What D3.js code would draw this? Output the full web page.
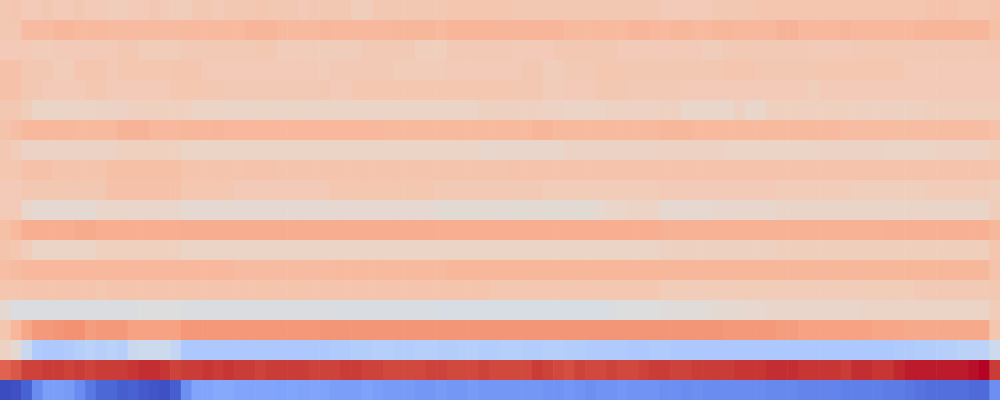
<!DOCTYPE html>
<html>
<head>
<meta charset="utf-8">
<script src="https://cdn.jsdelivr.net/npm/d3@7"></script>
<style>
html,body{margin:0;padding:0;background:#fff;}
svg{display:block;}
</style>
</head>
<body>
<svg id="chart" width="1000" height="400"></svg>
<script>
// Values (0-100), 20 rows x 94 columns
const row00 = [61,62,60,60,61,60,60,61,60,60, 59,59,60,60,61,60,59,59,61,61, 60,61,61,61,62,61,61,61,60,61, 61,61,61,59,59,61,61,61,61,61, 61,61,62,62,62,62,62,62,61,61, 61,61,61,61,61,61,61,61,61,61, 61,61,60,60,60,60,60,61,61,61, 61,62,62,62,62,62,62,62,62,62, 62,62,62,62,62,62,62,63,63,63, 62,62,62,63];
const row01 = [61,61,65.5,65.5,65.5,67,67,66,66,66, 65.5,65.5,65.5,65.5,65.5,65.5,65.5,66,66,66, 66,66,66,67.5,67.5,67.5,66,66,66,66, 67,66.5,66.5,66.5,66.5,66.5,66.5,67,67,67, 67,66,67.5,67.5,67.5,67.5,67.5,67.5,67.5,67.5, 67.5,67.5,67.5,66,66,66,66,66,66,67.5, 67.5,66.5,66,67,67,66,66,67,67,66.5, 66.5,66.5,66.5,68,68,66.5,66.5,66.5,66.5,67.5, 66.5,66.5,66.5,66.5,66.5,66.5,67.5,67.5,67.5,67.5, 67.5,67.5,67.5,64];
const row02 = [60,60,60,59.5,59.5,60,60,60,60,60, 60,61,61,59.5,59.5,59.5,59.5,60.5,60.5,60.5, 60.5,60.5,60.5,60.5,61,61,59.5,59.5,59.5,59.5, 59,59,59,59,60.5,60.5,60.5,60.5,60.5,58.5, 58.5,58.5,60.5,60.5,60.5,60.5,60.5,60.5,60,60, 60,60,61,61,61,61,61,61,60,60, 60,60,60,60,60,60,59,59,60.5,60.5, 60.5,60.5,60.5,60.5,60.5,60.5,60,60,60,60, 60.5,60.5,60.5,60.5,60.5,60.5,60.5,60.5,60.5,60.5, 60.5,60.5,60.5,61.5];
const row03 = [63.5,63.5,61,61,61,59.5,59.5,62,62,62, 60,61.5,61.5,61.5,61.5,61.5,62,62,62,60, 60,60,60,60,60,60,60,60,60,60, 59.5,60.5,60.5,60.5,60.5,60.5,60.5,59.5,59.5,59.5, 59.5,59.5,60,60,60,60,60,60,60,61, 61,59,59,60.5,60.5,60.5,61.5,61.5,61,61, 61,61,61,61,61,61,61,61,62,62, 62,61,61,61,61,61,61,61.5,61.5,61.5, 61.5,61.5,61.5,61.5,61.5,60,60,60,60,60, 60,60,60,60];
const row04 = [63.5,63.5,61,61,60,60,60,60,61.5,61.5, 60,60,60,60,60,60,61.5,61.5,61.5,61, 61,60.5,60.5,60.5,60.5,60.5,60.5,60.5,60.5,60.5, 61,60,60,61.5,61.5,61.5,61.5,61.5,61.5,61.5, 61.5,61.5,61.5,61.5,61.5,61.5,61.5,61.5,61,61, 61,59.5,59.5,60,60,60,61,61,61,60.5, 60.5,60.5,60.5,60.5,60,60,60,60,60,60, 60,60,60,60,60,60,58.5,60,60,60, 60,60,60,60,60,60,60,60,60,60, 60,60,60,60];
const row05 = [61,61,59,56,56,56,56,56,56,56.5, 56.5,56.5,58,58,58,58,58,58,56,56, 56,56,56,56,56,56,56,56,56,56, 56,56,56,56,56,56,56,56,56,56, 56,56,56,56,56,57.5,57.5,57.5,57.5,57.5, 57.5,57,57,56,56,56,56,57,57,57, 57,57,57.5,57.5,55,55,55,55,55,57.5, 55,55,58,58,58,58,58,58,58,58, 57.5,57.5,57.5,57.5,57.5,57.5,57.5,58.5,58.5,58.5, 58.5,58.5,58.5,58.5];
const row06 = [63,64.5,66.5,66.5,66.5,66.5,66.5,66,66,66, 66,68,68,68,66.5,66.5,66.5,67,67,67, 67.5,66.5,66.5,66.5,66.5,66.5,66.5,66.5,66.5,66.5, 66.5,66.5,66.5,66.5,66.5,66.5,66,66,66,66, 66,66,66,66,66,66,66,66,66,66, 67.5,67.5,66,66,66,66,66,66,66,66, 66,66,67,67,67,66,66,66,66,66, 66,66,66,66,66,66,66,66,66,65, 65,65,65,65,65,65,65,65,65,65, 65,65,65,63.5];
const row07 = [61,59,56.5,56.5,56.5,56.5,56.5,56.5,56.5,56.5, 56.5,58,58,58,58,58,58,56,56,56, 56,56,56,56,56,56,56,56,56,56, 56,56,56,56,56,56,56,56,56,56, 56,56,56,56,56,54.5,54.5,55,55,55, 55,55,55,56.5,56.5,56.5,56.5,56.5,56.5,56.5, 56.5,56.5,57,57,57,57,57,57,56,56, 56,56,56,56,56,56,56,56.5,56.5,56.5, 56.5,56.5,56.5,56,56,56,56,56,57,57, 57,57,57,58.5];
const row08 = [61.5,61.5,63.5,63.5,63.5,62.5,62.5,62.5,62.5,62.5, 64,64,64,64,64,64,64,62.5,62.5,62.5, 62.5,62.5,62.5,63,63,63,62.5,62.5,62.5,62.5, 62.5,62.5,62.5,62.5,62.5,62.5,62.5,62.5,62.5,62.5, 62.5,62.5,62.5,62.5,62.5,62.5,62.5,62.5,63,63, 63,63,63,63,63,63,63,63,63,63, 63,63,63,63,63,63,63,63,63,63, 63,63,63,63,63,63,63,63,63,63, 63,63,63,63,63,63,63,63,63,63, 63,63,63,62.5];
const row09 = [60,60,61,61,61,61,61,61,61,61, 63.5,63.5,63.5,63.5,63.5,63.5,63.5,61.5,61.5,61.5, 61.5,61.5,60,60,60,60,60,60,60,60, 60,61.5,61.5,61.5,61.5,61.5,61.5,61.5,61.5,61.5, 61.5,60.5,60.5,60.5,60.5,60.5,60.5,60.5,60.5,60.5, 60.5,59.5,59.5,59.5,59.5,59.5,59.5,59.5,59.5,59.5, 59.5,59.5,60,60,60,60,60,60,60,60, 60,60,60,59.5,59.5,59.5,59.5,59.5,59.5,59.5, 58.5,58.5,58.5,58.5,58.5,58.5,58.5,59.5,59.5,59.5, 59.5,59.5,59.5,58.5];
const row10 = [60,60,55,53,53,53,53,53,53,55, 55,55,55,55,55,55,55,53,53,53, 53,53,53,53,53,53,53,53,53,53, 53,53.5,53.5,53.5,53.5,53.5,53.5,53.5,53.5,53.5, 53.5,52.5,52.5,52.5,52.5,52.5,52.5,52.5,52.5,52.5, 52.5,52.5,52.5,52.5,52.5,52.5,54,55,55,56, 56,56,53.5,53.5,53.5,53.5,53.5,54.5,54.5,54.5, 54.5,54.5,54.5,55.5,55.5,55.5,55.5,55.5,55.5,55.5, 55.5,55.5,55.5,55.5,55.5,55.5,55.5,55.5,55.5,55.5, 55.5,55.5,55.5,59];
const row11 = [64,66,69.5,69.5,69.5,69.5,69.5,70.5,70.5,69.5, 69.5,69.5,69.5,69.5,69.5,69.5,69.5,70,70,70, 70,70,70,70,70,70,70,70,70,70, 70,70,70,70,70,70,70,70,70,70, 70,69.5,69.5,69.5,69.5,69.5,69.5,69.5,69.5,69.5, 69.5,69.5,69.5,69.5,69.5,69.5,69.5,69.5,69.5,69.5, 69.5,69.5,68.5,68.5,68.5,68.5,68.5,68.5,68.5,68.5, 68.5,68.5,68.5,68.5,68.5,68.5,68.5,68.5,68.5,68.5, 68.5,68.5,68.5,69,69,69,69,69,69,69, 69,69,69,67];
const row12 = [62.5,61.5,59,56,56,56,56,56,56,58, 58,58,58,58,58,58,58,56,56,56, 56,56,56,56,56,56,56,56,56,56, 56,56,56,56,56,56,56,56,56,56, 56,56,56,56,56,56,56,56,56,56, 56,56,56,56,56,56,56,56,56,56, 56,56,57.5,57.5,57.5,57.5,57.5,57.5,57.5,57.5, 57.5,57.5,57.5,58.5,58.5,58.5,58.5,58.5,58.5,58.5, 58.5,58.5,58.5,58.5,58.5,58.5,58.5,58.5,58.5,58.5, 58.5,58.5,58.5,62];
const row13 = [64.5,65.5,66.5,66.5,66.5,66.5,66.5,66.5,66.5,66.5, 66.5,66.5,66.5,66.5,66.5,66.5,66.5,66.5,66.5,66.5, 66.5,66.5,65.5,65.5,65.5,65.5,65.5,65.5,65.5,65.5, 65.5,66,66,66,66,66,66,66,66,66, 66,66,67,67,67,67,67,67,67,67, 67,67,67,67,67,67,67,67,67,67, 67,67,67,67,67,67,67,67,67,67, 67,67,67,67,67,67,67,67,67,67, 67,67,67,67,67,67,67,67,67,67, 67,67,67,63];
const row14 = [62,62,62.5,62.5,62.5,62.5,62.5,62.5,62.5,61.5, 62.5,62.5,62.5,62.5,62.5,62.5,62.5,62.5,62.5,62.5, 62.5,62.5,62.5,62.5,62.5,62.5,62.5,62.5,62.5,62.5, 62.5,62.5,62.5,62.5,62.5,62.5,62.5,62.5,62.5,62.5, 62.5,62.5,62.5,62.5,62.5,62.5,61.5,61.5,61.5,61.5, 61.5,61.5,61.5,61.5,61.5,61.5,61.5,61.5,61.5,61.5, 61.5,61.5,59.5,59.5,59.5,59.5,59.5,59.5,59.5,59.5, 59.5,59.5,59.5,59.5,59.5,59.5,59.5,59.5,59.5,59.5, 59.5,59.5,59.5,59.5,59.5,59.5,60.5,60.5,60.5,60.5, 60.5,60.5,60.5,61];
const row15 = [53,49,49,49,49,49,49,49,49,49, 49,49,49,50,50,50,50,49,49,49, 49,49,49,49,49,49,49,49,49,49, 49,48.5,48.5,48.5,48.5,48.5,48.5,48.5,48.5,48.5, 48.5,48,48,48,48,48,48,48,48,48, 48,48,48,48,48,48,48,49,50,50, 50,50,51,51,51,51,52,53,53,53, 54,54,55,55,55,55,55,55,55,55, 55,56,56,56,56,56,56,56,56,56, 56,56,56,59];
const row16 = [62,67,72,75,75,76,77,77,74,75, 75,75,73,73,73,73,73,75.5,75.5,75.5, 75.5,75.5,75.5,75.5,75.5,75.5,75.5,75.5,75.5,75.5, 76,76,76,76,76,76,76,76,76,76, 76,76,76,76,76,76,76,76,76,76, 76,76,76,76,76,76,76,76,76,76, 76,76,76,76,76,76,76,76,75,75, 75,75,75,74,74,73,73,73,73,73, 73,73,72,72,72,71,71,71,71,71, 71,71,71,62];
const row17 = [57,53,43,35,34,34,35,37,38,37, 38,37,43,44,44,44,41,34,34,34, 34,34,34,34,34,34,34,34,34,34, 34,35,35,36,36,37,37,36,36,37, 37,36,36,37,37,36,36,37,37,36, 36,37,37,36,36,35,35,35,35,34, 34,35,35,34,34,34,34,34,34,34, 34,34,34,34,34,34,34,34,34,34, 34,34,34,34,35,35,36,36,37,37, 38,38,39,44];
const row18 = [87,89,93,93,94,94,93,94,93,94, 94,94,95,96,96,95,93,94,94,95, 94,95,94,94,93,94,94,94,94,93, 93,93,94,94,93,93,92,92,92,92, 93,93,92,92,92,93,92,92,92,92, 94,93,92,91,93,92,92,93,92,92, 93,94,94,93,93,94,94,94,94,95, 95,95,96,96,96,95,95,95,95,94, 96,96,95,95,97,98,98,98,98,98, 98,99,100,94];
const row19 = [0,1,5,15,20,20,19,15,10,6, 6,4,5,3,2,1,4,16,22,22, 23,23,22,22,22,22,21,22,21,22, 21,20,20,20,21,20,19,19,19,18, 18,19,18,18,19,18,18,18,18,18, 18,17,17,18,17,16,17,17,18,17, 17,17,16,16,15,16,15,15,15,15, 15,15,14,14,14,13,13,13,13,12, 12,12,12,11,11,10,9,8,8,8, 8,7,7,16];

const rowsData = [row00,row01,row02,row03,row04,row05,row06,row07,row08,row09,
                  row10,row11,row12,row13,row14,row15,row16,row17,row18,row19];
const nCols = 94;
const rowIds = d3.range(rowsData.length);
const colIds = d3.range(nCols);

// matplotlib "coolwarm" colormap stops
const cwStops = [
 [59,76,192],[68,90,204],[77,104,215],[87,117,225],[98,130,234],[108,142,241],[119,154,247],[130,165,251],
 [141,176,254],[152,185,255],[163,194,255],[174,201,253],[184,208,249],[194,213,244],[204,217,238],[213,219,230],
 [221,221,221],[229,216,209],[236,211,197],[241,204,185],[245,196,173],[247,187,160],[247,177,148],[247,166,135],
 [244,154,123],[241,141,111],[236,127,99],[229,112,88],[222,96,77],[213,80,66],[203,62,56],[192,40,47],[180,4,38]
];

const W = 1000, H = 400;
const svg = d3.select("#chart");
const x = d3.scaleBand().domain(colIds).range([0, W]).padding(0);
const y = d3.scaleBand().domain(rowIds).range([0, H]).padding(0);
const color = d3.scaleLinear()
  .domain(cwStops.map((_, i) => i * 100 / (cwStops.length - 1)))
  .range(cwStops.map(c => `rgb(${c[0]},${c[1]},${c[2]})`))
  .interpolate(d3.interpolateRgb)
  .clamp(true);

const cells = [];
rowsData.forEach((row, r) => row.forEach((v, c) => cells.push({r, c, v})));

svg.append("g").selectAll("rect")
  .data(cells)
  .join("rect")
  .attr("x", d => x(d.c))
  .attr("y", d => y(d.r))
  .attr("width", x.bandwidth() + 0.6)
  .attr("height", y.bandwidth() + 0.6)
  .attr("fill", d => color(d.v));
</script>
</body>
</html>
